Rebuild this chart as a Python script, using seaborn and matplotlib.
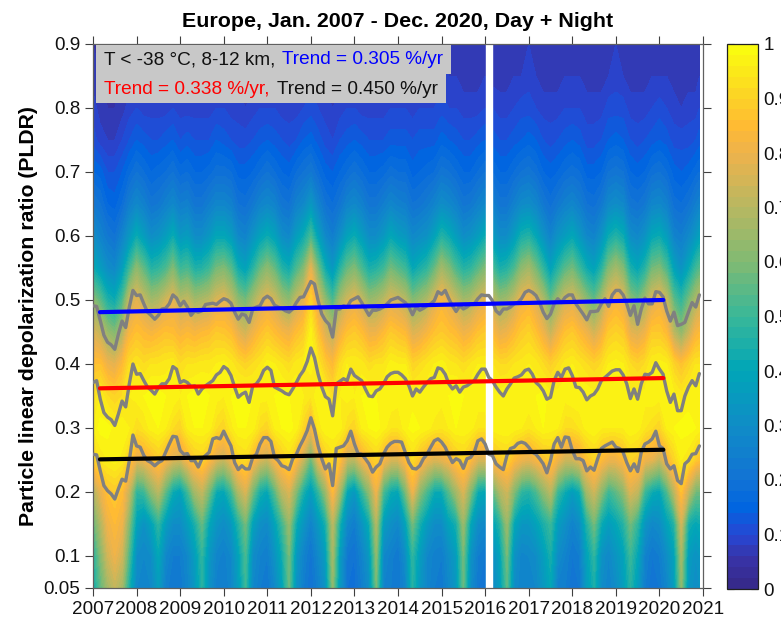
import numpy as np
import seaborn as sns
import matplotlib.pyplot as plt
from matplotlib.colors import LinearSegmentedColormap
from matplotlib.patches import Rectangle

sns.set_style("ticks")
plt.rcParams['font.family'] = ['Liberation Sans', 'DejaVu Sans']
plt.rcParams['axes.unicode_minus'] = False
plt.rcParams['text.color'] = 'black'
plt.rcParams['axes.labelcolor'] = 'black'
plt.rcParams['axes.titlecolor'] = 'black'

# monthly percentile curves, Jan 2007 - Dec 2020
upper = [.491, .49, .468, .445, .434, .43, .423, .447, .467, .457, .489, .515,
         .507, .508, .494, .481, .476, .47, .476, .486, .487, .494, .508, .503,
         .491, .498, .489, .476, .483, .481, .483, .493, .494, .495, .493, .498,
         .502, .5, .495, .481, .47, .478, .476, .465, .486, .489, .491, .502,
         .506, .502, .492, .489, .487, .483, .481, .486, .496, .504, .505, .517,
         .529, .525, .499, .478, .468, .462, .442, .486, .486, .491, .489, .499,
         .502, .505, .496, .486, .476, .484, .484, .486, .489, .494, .5, .502,
         .504, .5, .496, .489, .477, .489, .484, .487, .491, .494, .499, .513,
         .509, .515, .502, .491, .482, .491, .486, .489, .494, .494, .502, .508,
         .507, .507, .499, .483, .478, .486, .486, .489, .494, .496, .502, .512,
         .515, .512, .507, .496, .481, .471, .478, .494, .502, .496, .504, .508,
         .508, .494, .486, .478, .469, .482, .482, .483, .494, .502, .49, .508,
         .515, .515, .508, .494, .476, .491, .462, .486, .503, .494, .494, .513,
         .512, .505, .483, .467, .481, .46, .462, .465, .481, .496, .489, .508]
middle = [.371, .374, .345, .324, .317, .313, .304, .322, .342, .333, .369, .4,
          .384, .385, .374, .364, .359, .353, .363, .369, .369, .377, .396, .392,
          .371, .374, .371, .365, .366, .353, .361, .366, .37, .374, .383, .387,
          .396, .392, .382, .364, .348, .353, .356, .34, .366, .369, .377, .39,
          .395, .39, .364, .361, .358, .354, .352, .361, .371, .382, .39, .404,
          .425, .41, .384, .364, .349, .345, .319, .369, .373, .377, .374, .392,
          .382, .378, .374, .361, .35, .349, .358, .361, .369, .38, .385, .387,
          .387, .383, .377, .366, .35, .361, .356, .364, .371, .377, .379, .394,
          .392, .384, .369, .361, .366, .356, .364, .366, .37, .374, .384, .392,
          .392, .379, .374, .364, .356, .35, .361, .369, .378, .38, .383, .39,
          .392, .384, .371, .366, .358, .345, .348, .374, .387, .379, .392, .394,
          .382, .364, .363, .356, .344, .35, .353, .361, .374, .379, .384, .389,
          .391, .391, .383, .369, .346, .361, .345, .369, .384, .383, .387, .402,
          .392, .384, .358, .34, .353, .327, .327, .35, .364, .374, .366, .385]
lower = [.259, .258, .233, .21, .202, .197, .189, .205, .22, .217, .249, .289,
         .272, .27, .257, .249, .246, .241, .246, .249, .262, .275, .287, .286,
         .265, .259, .26, .249, .249, .239, .252, .257, .262, .283, .285, .283,
         .295, .283, .272, .246, .235, .241, .236, .236, .254, .259, .275, .285,
         .285, .279, .254, .249, .241, .239, .235, .252, .259, .272, .283, .296,
         .316, .298, .272, .252, .236, .244, .21, .268, .27, .272, .28, .295,
         .275, .26, .259, .252, .244, .231, .239, .244, .259, .27, .276, .279,
         .279, .278, .262, .246, .237, .236, .241, .252, .259, .27, .28, .283,
         .278, .27, .257, .246, .252, .249, .237, .252, .254, .262, .28, .283,
         .275, .259, .257, .244, .239, .235, .257, .268, .27, .276, .278, .276,
         .27, .262, .259, .252, .244, .23, .249, .275, .285, .27, .286, .285,
         .265, .252, .252, .249, .233, .239, .234, .252, .268, .272, .275, .278,
         .27, .268, .262, .246, .233, .244, .232, .262, .275, .278, .283, .295,
         .272, .268, .244, .236, .241, .218, .213, .244, .249, .259, .26, .272]
month_years = [2007 + m / 12 for m in range(168)]

trend_years = [2007.16, 2020.09]
trend_blue = [.481, .5]
trend_red = [.362, .378]
trend_black = [.251, .266]

missing_years = [2016.02, 2016.16]

# frequency field in percent, 6 columns per year plus the last month
field_years = [2007 + k / 6 for k in range(84)] + [2020.92]
field_levels = [.05, .1, .15, .2, .25, .3, .35, .4, .45, .5, .55, .6, .65, .7, .75, .8, .85, .9]

f05 = [42, 55, 66, 72, 66, 44, 28, 26, 28, 36, 25, 22, 22, 27, 34, 46, 32, 25, 24, 27, 36, 50, 28, 24,
       22, 28, 38, 56, 32, 24, 20, 25, 32, 62, 34, 20, 19, 24, 30, 58, 26, 24, 22, 27, 46, 34, 27, 24,
       22, 28, 34, 56, 30, 22, 22, 28, 36, 54, 30, 26, 26, 28, 34, 40, 25, 24, 20, 22, 36, 44, 30, 26,
       30, 36, 46, 36, 24, 20, 22, 27, 36, 62, 34, 30, 32]
f10 = [46, 60, 74, 80, 74, 52, 30, 28, 30, 40, 28, 24, 24, 28, 36, 48, 34, 27, 25, 28, 38, 52, 30, 26,
       24, 32, 42, 58, 34, 26, 21, 28, 36, 66, 36, 22, 20, 26, 34, 62, 28, 25, 22, 30, 48, 36, 28, 25,
       24, 30, 36, 58, 32, 24, 22, 30, 38, 58, 32, 27, 28, 30, 36, 44, 30, 26, 22, 24, 38, 48, 32, 28,
       33, 38, 50, 40, 26, 22, 24, 30, 38, 66, 36, 32, 34]
f15 = [55, 68, 80, 84, 80, 60, 38, 32, 38, 48, 36, 30, 30, 36, 44, 56, 40, 33, 30, 34, 46, 58, 38, 31,
       29, 38, 50, 64, 42, 33, 26, 34, 44, 70, 44, 28, 24, 32, 42, 68, 36, 31, 28, 38, 58, 44, 35, 30,
       30, 38, 44, 64, 40, 30, 28, 38, 46, 64, 40, 34, 34, 38, 44, 50, 36, 31, 26, 30, 46, 58, 42, 36,
       40, 46, 58, 48, 33, 28, 30, 38, 46, 74, 44, 40, 42]
f20 = [68, 78, 86, 88, 85, 72, 48, 50, 62, 70, 55, 42, 38, 50, 66, 72, 58, 42, 40, 50, 68, 76, 58, 44,
       40, 54, 70, 76, 60, 44, 36, 48, 64, 84, 66, 40, 34, 48, 62, 80, 52, 42, 40, 58, 80, 62, 52, 42,
       42, 54, 66, 76, 60, 42, 40, 54, 68, 74, 60, 48, 46, 52, 62, 70, 50, 42, 36, 42, 66, 74, 62, 50,
       55, 62, 76, 72, 50, 42, 40, 52, 70, 86, 72, 58, 58]
f25 = [88, 94, 96, 97, 95, 88, 78, 80, 84, 88, 82, 76, 74, 82, 88, 90, 84, 76, 72, 80, 90, 92, 84, 76,
       72, 82, 88, 92, 84, 72, 56, 78, 88, 92, 86, 72, 70, 80, 86, 90, 82, 76, 76, 84, 92, 86, 80, 76,
       78, 82, 88, 90, 84, 76, 76, 84, 88, 90, 84, 80, 78, 82, 86, 88, 80, 74, 74, 78, 86, 90, 84, 80,
       80, 84, 90, 88, 80, 78, 72, 82, 90, 96, 94, 88, 86]
f30 = [96, 99, 99, 97, 98, 96, 92, 94, 97, 98, 96, 92, 90, 96, 98, 98, 97, 92, 90, 95, 98, 98, 97, 92,
       90, 96, 98, 99, 97, 90, 80, 94, 98, 98, 97, 92, 90, 96, 98, 99, 97, 94, 94, 97, 99, 98, 97, 95,
       94, 96, 98, 98, 97, 94, 94, 97, 98, 98, 97, 96, 94, 96, 98, 97, 96, 92, 92, 94, 97, 98, 96, 96,
       96, 96, 98, 97, 94, 92, 90, 96, 98, 99, 99, 98, 97]
f35 = [92, 96, 92, 90, 92, 96, 97, 98, 99, 99, 98, 98, 96, 98, 99, 99, 98, 97, 96, 98, 99, 99, 98, 97,
       97, 98, 99, 98, 98, 96, 94, 98, 97, 92, 96, 97, 96, 98, 99, 98, 98, 98, 97, 98, 97, 98, 98, 98,
       97, 98, 99, 98, 98, 98, 98, 98, 97, 98, 98, 98, 98, 98, 99, 97, 97, 97, 98, 98, 98, 97, 98, 98,
       98, 98, 97, 97, 97, 98, 97, 98, 97, 95, 97, 98, 97]
f40 = [86, 86, 80, 78, 84, 92, 94, 92, 94, 94, 95, 96, 92, 94, 94, 95, 95, 96, 97, 95, 92, 90, 92, 94,
       97, 96, 94, 92, 95, 96, 97, 94, 88, 84, 92, 96, 96, 95, 92, 94, 94, 97, 96, 96, 90, 92, 94, 96,
       97, 95, 94, 92, 94, 96, 96, 94, 92, 92, 94, 95, 96, 95, 92, 89, 92, 95, 96, 94, 92, 90, 92, 96,
       97, 96, 92, 90, 92, 96, 97, 96, 90, 86, 90, 94, 94]
f45 = [76, 72, 64, 60, 68, 82, 86, 84, 82, 84, 86, 85, 82, 84, 82, 84, 85, 88, 87, 85, 78, 74, 80, 85,
       88, 85, 82, 80, 85, 88, 97, 86, 76, 70, 80, 86, 88, 85, 80, 80, 84, 88, 86, 84, 76, 78, 82, 86,
       88, 86, 84, 80, 82, 86, 88, 84, 78, 80, 84, 88, 90, 86, 80, 72, 80, 86, 88, 84, 80, 74, 80, 88,
       90, 88, 78, 76, 80, 88, 88, 84, 70, 62, 72, 82, 84]
f50 = [62, 55, 45, 42, 52, 72, 78, 72, 66, 68, 74, 78, 70, 72, 66, 68, 70, 76, 78, 72, 62, 58, 66, 74,
       78, 74, 66, 62, 72, 78, 90, 76, 62, 52, 66, 74, 78, 72, 64, 66, 70, 76, 74, 70, 60, 64, 68, 76,
       82, 78, 72, 66, 68, 74, 78, 72, 64, 66, 72, 80, 82, 76, 68, 56, 66, 74, 76, 70, 62, 56, 66, 78,
       82, 78, 62, 58, 66, 76, 80, 72, 55, 48, 58, 68, 72]
f55 = [42, 36, 30, 28, 36, 50, 62, 55, 46, 48, 52, 60, 50, 52, 45, 46, 50, 58, 60, 54, 42, 38, 46, 56,
       62, 56, 46, 42, 52, 60, 78, 58, 42, 34, 46, 56, 60, 52, 44, 46, 50, 58, 54, 50, 40, 44, 48, 56,
       66, 60, 52, 46, 48, 54, 60, 52, 44, 46, 52, 62, 66, 58, 48, 38, 46, 54, 58, 50, 42, 38, 46, 60,
       66, 60, 44, 40, 46, 58, 60, 52, 38, 32, 40, 50, 54]
f60 = [30, 26, 22, 20, 26, 34, 42, 36, 30, 32, 36, 42, 34, 36, 30, 30, 34, 40, 40, 36, 28, 26, 32, 38,
       42, 38, 30, 28, 36, 42, 52, 38, 28, 24, 30, 38, 42, 36, 30, 30, 34, 40, 36, 34, 28, 30, 32, 38,
       46, 42, 36, 30, 32, 36, 42, 36, 30, 30, 36, 44, 46, 40, 32, 26, 32, 36, 40, 34, 28, 26, 32, 42,
       46, 42, 30, 28, 32, 40, 42, 36, 26, 24, 28, 34, 38]
f65 = [22, 20, 16, 15, 18, 24, 28, 25, 21, 22, 25, 28, 24, 25, 21, 21, 24, 27, 27, 25, 20, 19, 22, 26,
       28, 26, 21, 20, 25, 28, 34, 26, 20, 18, 21, 26, 28, 25, 21, 21, 24, 27, 25, 24, 20, 21, 23, 26,
       30, 28, 25, 21, 22, 25, 28, 25, 21, 21, 25, 29, 30, 27, 22, 19, 22, 25, 27, 24, 20, 19, 22, 28,
       30, 28, 21, 20, 22, 27, 28, 25, 19, 18, 20, 24, 26]
f70 = [16, 15, 12, 12, 14, 17, 20, 18, 16, 17, 18, 20, 17, 18, 16, 16, 17, 19, 19, 18, 15, 15, 16, 18,
       20, 18, 16, 15, 18, 20, 22, 18, 15, 14, 16, 18, 20, 18, 16, 16, 17, 19, 18, 18, 15, 16, 17, 18,
       21, 20, 18, 16, 16, 18, 20, 18, 16, 16, 18, 20, 21, 19, 16, 15, 16, 18, 19, 18, 15, 15, 16, 20,
       21, 20, 16, 15, 16, 19, 20, 18, 15, 14, 15, 17, 18]
f75 = [11, 9, 8, 8, 10, 12, 14, 13, 12, 12, 13, 14, 12, 13, 12, 12, 12, 14, 13, 12, 11, 11, 12, 13,
       14, 13, 12, 11, 12, 14, 15, 13, 11, 10, 12, 13, 14, 13, 12, 12, 12, 13, 13, 13, 12, 13, 13, 13,
       15, 14, 13, 12, 12, 13, 14, 13, 12, 12, 13, 14, 15, 14, 12, 11, 12, 13, 14, 13, 11, 11, 12, 14,
       15, 14, 12, 11, 12, 13, 14, 13, 11, 11, 11, 12, 13]
f80 = [9, 7, 6, 6, 7, 9, 10, 9, 9, 9, 9, 10, 9, 9, 9, 9, 9, 10, 10, 9, 9, 8, 9, 10,
       10, 10, 9, 9, 9, 10, 11, 10, 9, 8, 9, 10, 10, 9, 9, 9, 9, 10, 10, 10, 9, 10, 10, 10,
       11, 10, 10, 9, 9, 9, 10, 10, 9, 9, 10, 11, 11, 10, 9, 9, 9, 10, 10, 10, 9, 9, 9, 11,
       11, 11, 9, 9, 9, 10, 11, 10, 9, 8, 9, 9, 10]
f85 = [7, 6, 5, 5, 6, 7, 7, 7, 7, 7, 7, 8, 7, 7, 7, 7, 7, 8, 8, 7, 7, 7, 7, 7,
       8, 8, 7, 7, 7, 8, 9, 8, 7, 7, 7, 8, 8, 7, 7, 7, 7, 8, 8, 8, 7, 7, 8, 8,
       9, 8, 8, 7, 7, 7, 8, 7, 7, 7, 8, 8, 9, 8, 7, 7, 7, 8, 8, 8, 7, 7, 7, 8,
       9, 8, 7, 7, 7, 8, 8, 8, 7, 7, 7, 7, 8]
f90 = [6, 5, 4, 4, 5, 6, 6, 6, 6, 6, 6, 7, 6, 6, 6, 6, 6, 7, 7, 6, 6, 6, 6, 6,
       7, 7, 6, 6, 6, 7, 8, 7, 6, 6, 6, 7, 7, 6, 6, 6, 6, 7, 7, 7, 6, 6, 7, 7,
       8, 7, 7, 6, 6, 6, 7, 6, 6, 6, 7, 7, 8, 7, 6, 6, 6, 7, 7, 7, 6, 6, 6, 7,
       8, 7, 6, 6, 6, 7, 7, 7, 6, 6, 6, 6, 7]

field = np.array([f05, f10, f15, f20, f25, f30, f35, f40, f45, f50, f55, f60,
                  f65, f70, f75, f80, f85, f90]) / 100

parula = LinearSegmentedColormap.from_list("parula_like", [
    (0.0, (0.21, 0.16, 0.53)), (0.05, (0.22, 0.20, 0.65)), (0.1, (0.15, 0.28, 0.83)),
    (0.15, (0.0, 0.40, 0.88)), (0.2, (0.07, 0.45, 0.83)), (0.3, (0.06, 0.55, 0.78)),
    (0.4, (0.0, 0.65, 0.72)), (0.5, (0.22, 0.72, 0.60)), (0.6, (0.50, 0.73, 0.45)),
    (0.7, (0.72, 0.72, 0.38)), (0.8, (0.93, 0.70, 0.30)), (0.85, (1.0, 0.73, 0.20)),
    (0.9, (0.99, 0.82, 0.15)), (1.0, (0.98, 1.0, 0.05))])

W, H = 781, 619
fig = plt.figure(figsize=(W / 100, H / 100), dpi=100)
ax = fig.add_axes([93 / W, (H - 588) / H, 610 / W, 544 / H])
cax = fig.add_axes([727 / W, (H - 589) / H, 31 / W, 545 / H])

cf = ax.contourf(field_years, field_levels, field, levels=np.linspace(0, 1, 51), cmap=parula)
ax.axvspan(missing_years[0], missing_years[1], color="white", zorder=2)

for curve in [upper, middle, lower]:
    sns.lineplot(x=month_years, y=curve, color="#808080", linewidth=2.4, ax=ax,
                 errorbar=None, legend=False, zorder=3)
for trend, col in [(trend_blue, "blue"), (trend_red, "red"), (trend_black, "black")]:
    sns.lineplot(x=trend_years, y=trend, color=col, linewidth=3, ax=ax,
                 errorbar=None, legend=False, zorder=4)

ax.set_xlim(2007, 2021)
ax.set_ylim(0.05, 0.9)
ax.set_xticks(range(2007, 2022))
ax.set_yticks([.05, .1, .2, .3, .4, .5, .6, .7, .8, .9])
ax.set_yticklabels(["0.05", "0.1", "0.2", "0.3", "0.4", "0.5", "0.6", "0.7", "0.8", "0.9"])
ax.tick_params(direction="out", length=6, width=0.8, color="#404040", labelcolor="#111111",
               labelsize=13.6, top=True, right=True, pad=3)
for s in ax.spines.values():
    s.set_color("#606060")
    s.set_linewidth(0.9)
ax.set_ylabel("Particle linear depolarization ratio (PLDR)", fontsize=15.3,
              fontweight="bold", labelpad=4)
ax.set_title("Europe, Jan. 2007 - Dec. 2020, Day + Night", fontsize=15.4,
             fontweight="bold", pad=12)

# gray text boxes, in pixels of the axes
def ax_xy(px, py):
    return (px - 93) / 610, (588 - py) / 544

for x0, y0, x1, y1 in [(96, 45, 451, 74), (96, 74, 446, 103)]:
    ax.add_patch(Rectangle(ax_xy(x0, y1), (x1 - x0) / 610, (y1 - y0) / 544,
                           transform=ax.transAxes, facecolor="#c8c8c8", edgecolor="none", zorder=5))
for px, py, txt, col in [(104, 60, "T < -38 °C, 8-12 km,", "#111111"),
                         (282, 60, "Trend = 0.305 %/yr", "blue"),
                         (104, 89, "Trend = 0.338 %/yr,", "red"),
                         (277, 89, "Trend = 0.450 %/yr", "#111111")]:
    x, y = ax_xy(px, py)
    ax.text(x, y, txt, color=col, fontsize=13.7, va="center", ha="left",
            transform=ax.transAxes, zorder=6)

cb = fig.colorbar(cf, cax=cax, ticks=np.arange(0, 1.01, 0.1))
cb.ax.set_yticklabels(["0", "0.1", "0.2", "0.3", "0.4", "0.5", "0.6", "0.7", "0.8", "0.9", "1"])
cb.ax.tick_params(direction="in", length=5, width=0.8, labelsize=13.6, left=True, right=True,
                  color="#202020", labelcolor="#111111", pad=4)
cb.outline.set_edgecolor("#202020")
cb.outline.set_linewidth(0.9)

fig.savefig("out.png", dpi=100)
